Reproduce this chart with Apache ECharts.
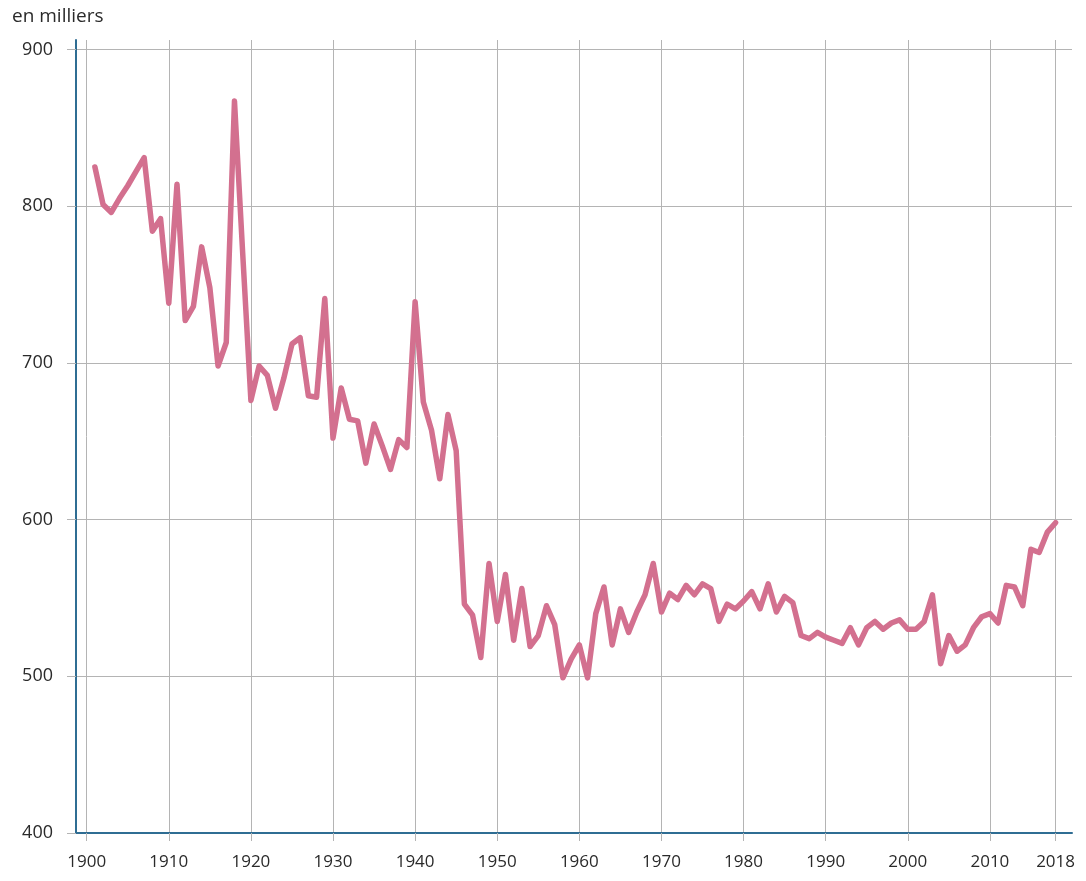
<!DOCTYPE html>
<html>
<head>
<meta charset="utf-8">
<title>Décès en France 1901-2018</title>
<script src="https://cdn.jsdelivr.net/npm/echarts@6/dist/echarts.min.js"></script>
<style>
  html, body { margin: 0; padding: 0; background: #ffffff; }
  #chart { width: 1086px; height: 881px; }
</style>
</head>
<body>
<div id="chart"></div>
<script>
// années 1901 -> 2018
const firstYear = 1901
const years = []
for (let y = firstYear; y <= 2018; y++) years.push(y)

// nombre de décès, en milliers
const deaths = [
  825, 801, 796, 805, 813, 822, 831, 784, 792, 738, // 1901-1910
  814, 727, 736, 774, 748, 698, 713, 867, 770, 676, // 1911-1920
  698, 692, 671, 690, 712, 716, 679, 678, 741, 652, // 1921-1930
  684, 664, 663, 636, 661, 647, 632, 651, 646, 739, // 1931-1940
  675, 657, 626, 667, 644, 546, 539, 512, 572, 535, // 1941-1950
  565, 523, 556, 519, 526, 545, 533, 499, 511, 520, // 1951-1960
  499, 540, 557, 520, 543, 528, 541, 552, 572, 541, // 1961-1970
  553, 549, 558, 552, 559, 556, 535, 546, 543, 548, // 1971-1980
  554, 543, 559, 541, 551, 547, 526, 524, 528, 525, // 1981-1990
  523, 521, 531, 520, 531, 535, 530, 534, 536, 530, // 1991-2000
  530, 535, 552, 508, 526, 516, 520, 531, 538, 540, // 2001-2010
  534, 558, 557, 545, 581, 579, 592, 598 // 2011-2018
]

const xTicks = [1900, 1910, 1920, 1930, 1940, 1950, 1960, 1970, 1980, 1990, 2000, 2010, 2018]
const yTicks = [400, 500, 600, 700, 800, 900]

const myChart = echarts.init(document.getElementById('chart'))
const gridColor = '#b4b4b4'
const axisColor = '#2f6d93'
const textColor = '#2a2a2a'

const option = {
  animation: false,
  title: {
    text: 'en milliers',
    left: 7,
    top: 2,
    textStyle: {
      color: textColor,
      fontSize: 19,
      fontWeight: 'normal',
      fontFamily: 'Open Sans'
    }
  },
  grid: {
    left: 76,
    right: 14,
    top: 40,
    bottom: 48
  },
  xAxis: {
    type: 'value',
    min: 1898.7,
    max: 2020,
    axisLine: {
      show: true,
      lineStyle: { color: axisColor, width: 2 }
    },
    axisTick: {
      show: true,
      customValues: xTicks,
      length: 8,
      lineStyle: { color: gridColor }
    },
    axisLabel: {
      customValues: xTicks,
      margin: 21,
      color: textColor,
      fontSize: 17,
      fontFamily: 'Open Sans'
    ,
      formatter: function(v) { return String(v) }
    },
    splitLine: {
      show: true,
      lineStyle: { color: gridColor, width: 1 }
    }
  },
  yAxis: {
    type: 'value',
    min: 400,
    max: 906,
    axisLine: {
      show: true,
      lineStyle: { color: axisColor, width: 2 }
    },
    axisTick: {
      show: true,
      customValues: yTicks,
      length: 9,
      lineStyle: { color: gridColor }
    },
    axisLabel: {
      customValues: yTicks,
      margin: 23,
      color: textColor,
      fontSize: 18,
      fontFamily: 'Open Sans'
    },
    splitLine: {
      show: true,
      lineStyle: { color: gridColor, width: 1 }
    }
  },
  series: [
    {
      type: 'line',
      data: years.map((y, i) => [y, deaths[i]]),
      showSymbol: false,
      lineStyle: { color: '#d3708f', width: 5.5, join: 'round', cap: 'round' },
      itemStyle: { color: '#d3708f' }
    }
  ]
}
myChart.setOption(option)
</script>
</body>
</html>
